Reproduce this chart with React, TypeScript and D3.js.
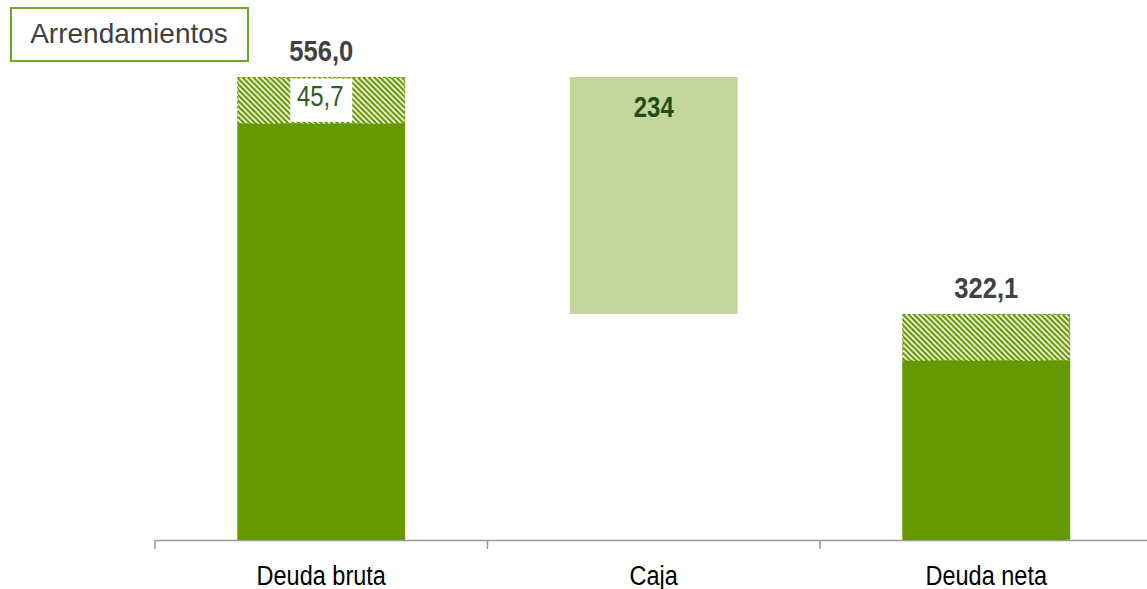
import { useEffect, useRef } from 'react';
import * as d3 from 'd3';

const categories = ['Deuda bruta', 'Caja', 'Deuda neta'];
const totals = [556.0, 234, 322.1];
const leases = [45.7, 0, 45.7];
const labels = ['556,0', '234', '322,1'];
const leaseLabel = '45,7';
const legendLabel = 'Arrendamientos';

const DARK = '#669900';
const LIGHT = '#c4d69b';
const FONT = "'Liberation Sans', Arial, sans-serif";

// no narrow font installed, so squeeze the regular one horizontally
const narrowText = (sel: any, x: number, y: number, sx: number, size: number, bold: boolean, fill: string, txt: string) => {
  sel.append('text')
    .attr('transform', `translate(${x},${y}) scale(${sx},1)`)
    .attr('text-anchor', 'middle')
    .style('font-family', FONT)
    .style('font-weight', bold ? 'bold' : 'normal')
    .style('font-size', `${size}px`)
    .attr('fill', fill)
    .text(txt);
};

const App = () => {
  const svgRef = useRef<SVGSVGElement>(null);

  useEffect(() => {
    const svg = d3.select(svgRef.current);
    svg.selectAll('*').remove();

    const width = 1147;
    const height = 589;
    const axisY = 540;

    const x = d3.scaleBand()
      .domain(categories)
      .range([155, 1152.5])
      .paddingInner(0.495)
      .paddingOuter(0.2475);

    // axis does not start at zero in the original
    const y = d3.scaleLinear().domain([99, 556]).range([axisY, 77]);

    // hatch pattern
    const defs = svg.append('defs');
    const p = 5.5;
    const pat = defs.append('pattern')
      .attr('id', 'hatch')
      .attr('patternUnits', 'userSpaceOnUse')
      .attr('width', p)
      .attr('height', p);
    pat.append('rect').attr('width', p).attr('height', p).attr('fill', '#fff');
    pat.append('path')
      .attr('d', `M0,0 L${p},${p} M-1,${p - 1} L1,${p + 1} M${p - 1},-1 L${p + 1},1`)
      .attr('stroke', DARK)
      .attr('stroke-width', 2.3);

    // bars
    categories.forEach((cat, i) => {
      const bx = x(cat)!;
      const bw = x.bandwidth();
      const cx = bx + bw / 2;
      if (cat === 'Caja') {
        const top = totals[0];
        const bottom = totals[0] - totals[1];
        svg.append('rect')
          .attr('x', bx).attr('y', y(top))
          .attr('width', bw).attr('height', y(bottom) - y(top))
          .attr('fill', LIGHT);
        narrowText(svg, cx, y(top) + 40, 0.8, 30, true, '#1f4d17', labels[i]);
        return;
      }
      const solidTop = totals[i] - leases[i];
      svg.append('rect')
        .attr('x', bx).attr('y', y(solidTop))
        .attr('width', bw).attr('height', axisY - y(solidTop))
        .attr('fill', DARK);
      svg.append('rect')
        .attr('x', bx + 0.5).attr('y', y(totals[i]) + 0.5)
        .attr('width', bw - 1).attr('height', y(solidTop) - y(totals[i]))
        .attr('fill', 'url(#hatch)')
        .attr('stroke', DARK).attr('stroke-width', 1)
        .attr('stroke-dasharray', '3,2');
      narrowText(svg, cx, y(totals[i]) - 16, 0.88, 29, true, '#404040', labels[i]);
      if (i === 0) {
        svg.append('rect')
          .attr('x', cx - 31).attr('y', y(totals[i]) + 1.5)
          .attr('width', 62).attr('height', y(solidTop) - y(totals[i]) - 3)
          .attr('fill', '#fff');
        narrowText(svg, cx - 1, y(totals[i]) + 29, 0.8, 30, false, '#2e5e1e', leaseLabel);
      }
    });

    // x axis
    const ax = svg.append('g');
    ax.append('line')
      .attr('x1', 155).attr('x2', width)
      .attr('y1', axisY + 0.5).attr('y2', axisY + 0.5)
      .attr('stroke', '#9a9a9a').attr('stroke-width', 1.5);
    const step = x.step();
    d3.range(categories.length + 1).forEach(k => {
      const tx = 155 + k * step;
      ax.append('line')
        .attr('x1', tx).attr('x2', tx)
        .attr('y1', axisY).attr('y2', axisY + 9)
        .attr('stroke', '#9a9a9a').attr('stroke-width', 1.5);
    });
    categories.forEach(cat => {
      narrowText(ax, x(cat)! + x.bandwidth() / 2, 585, 0.84, 28, false, '#000', cat);
    });

    // legend box
    svg.append('rect')
      .attr('x', 11).attr('y', 8)
      .attr('width', 237).attr('height', 53)
      .attr('fill', '#fff')
      .attr('stroke', '#72a226').attr('stroke-width', 2);
    svg.append('text')
      .attr('x', 129).attr('y', 43)
      .attr('text-anchor', 'middle')
      .style('font-family', FONT)
      .style('font-size', '28px').attr('fill', '#404040')
      .text(legendLabel);

    svg.attr('width', width).attr('height', height);
  }, []);

  return (
    <div style={{ position: 'absolute', left: 0, top: 0 }}>
      <svg ref={svgRef} style={{ display: 'block' }}></svg>
    </div>
  );
};

export default App;
